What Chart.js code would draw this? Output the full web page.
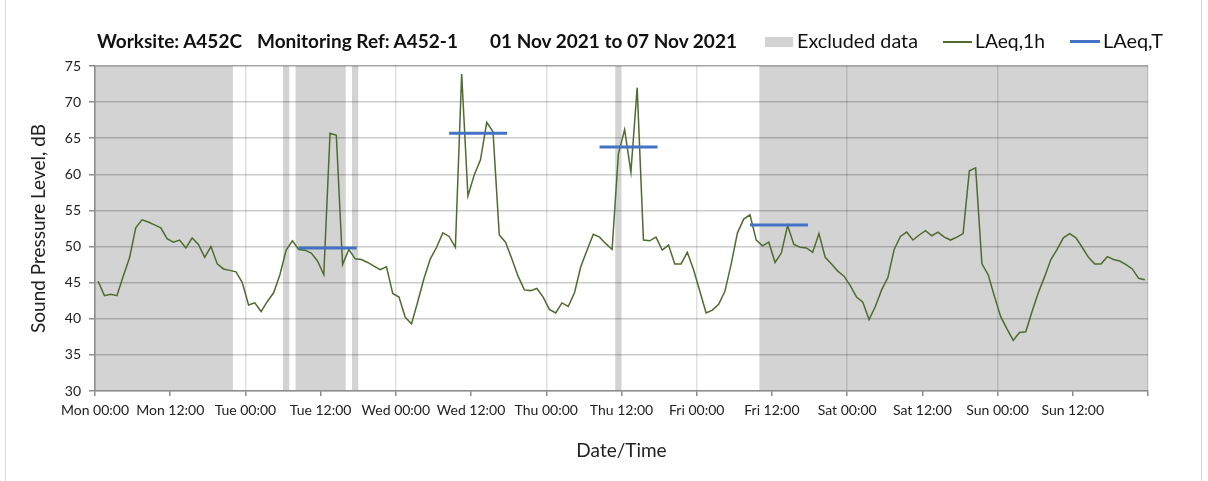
<!DOCTYPE html>
<html>
<head>
<meta charset="utf-8">
<title>A452-1 noise monitoring</title>
<script src="https://cdn.jsdelivr.net/npm/chart.js@4.4.0/dist/chart.umd.min.js"></script>
<style>
  body { margin: 0; background: #fff; }
  #wrap { position: relative; width: 1208px; height: 481px; overflow: hidden; font-family: Lato, "Open Sans", sans-serif; color: #111; }
  #frame { position: absolute; left: 5px; top: 0; width: 1197px; height: 481px; border-left: 1px solid #d9d9d9; border-right: 1px solid #d9d9d9; box-sizing: border-box; }
  canvas { position: absolute; left: 0; top: 0; }
  .ttl { position: absolute; top: 40px; font-size: 19px; font-weight: bold; white-space: nowrap; line-height: 1; transform: translateY(-50%); }
  .leg { position: absolute; top: 41px; font-size: 19px; white-space: nowrap; line-height: 1; transform: translateY(-50%); }
  .swatch { position: absolute; }
</style>
</head>
<body>
<div id="wrap">
  <div id="frame"></div>
  <canvas id="noiseChart" width="1208" height="481"></canvas>
  <span class="ttl" style="left:97px">Worksite: A452C</span>
  <span class="ttl" style="left:257px">Monitoring Ref: A452-1</span>
  <span class="ttl" style="left:490px">01 Nov 2021 to 07 Nov 2021</span>
  <div class="swatch" style="left:765px; top:37px; width:28px; height:10px; background:#d3d3d3"></div>
  <span class="leg" data-w="121" style="left:797px">Excluded data</span>
  <div class="swatch" style="left:943px; top:41px; width:29px; height:2px; background:#4f6b2f"></div>
  <span class="leg" data-w="70" style="left:975px">LAeq,1h</span>
  <div class="swatch" style="left:1070px; top:40px; width:30px; height:3px; background:#4472c4"></div>
  <span class="leg" data-w="60" style="left:1103px">LAeq,T</span>
</div>
<script>
// hourly LAeq,1h values, one per hour from Mon 00:00 (plotted at mid-hour)
const laeq1h = [
  45.2, 43.2, 43.4, 43.2, 45.9, 48.4, 52.6, 53.7, 53.4, 53.0, 52.6, 51.1,
  50.6, 50.9, 49.8, 51.2, 50.3, 48.5, 50.0, 47.6, 46.9, 46.7, 46.5, 45.0,
  41.9, 42.2, 41.0, 42.4, 43.6, 46.1, 49.5, 50.8, 49.6, 49.5, 49.1, 48.0,
  46.1, 65.7, 65.4, 47.5, 49.6, 48.3, 48.2, 47.8, 47.3, 46.8, 47.2, 43.5,
  43.0, 40.2, 39.3, 42.4, 45.6, 48.3, 49.9, 51.9, 51.4, 49.9, 73.9, 57.0,
  59.9, 62.0, 67.2, 65.9, 51.6, 50.6, 48.3, 45.9, 44.0, 43.9, 44.2, 43.0,
  41.3, 40.8, 42.2, 41.7, 43.6, 47.2, 49.5, 51.7, 51.3, 50.4, 49.6, 62.8,
  66.2, 60.3, 72.0, 50.9, 50.8, 51.3, 49.5, 50.2, 47.6, 47.6, 49.2, 46.8,
  43.8, 40.8, 41.2, 42.0, 43.8, 47.6, 51.9, 53.8, 54.4, 50.9, 50.1, 50.6,
  47.8, 49.1, 52.9, 50.3, 49.9, 49.8, 49.2, 51.8, 48.5, 47.6, 46.6, 45.9,
  44.6, 43.0, 42.3, 39.9, 41.7, 44.0, 45.7, 49.6, 51.4, 52.0, 50.9, 51.6,
  52.2, 51.5, 52.0, 51.3, 50.9, 51.3, 51.8, 60.5, 60.9, 47.6, 46.1, 43.1,
  40.3, 38.6, 37.0, 38.1, 38.2, 41.0, 43.6, 45.8, 48.2, 49.6, 51.2, 51.8,
  51.2, 49.9, 48.5, 47.6, 47.6, 48.6, 48.2, 48.0, 47.5, 46.9, 45.6, 45.4
];

// LAeq,T daytime periods (hours from Mon 00:00)
const periodStart = [32.5, 56.5, 80.5, 104.5];
const periodEnd = [41.75, 65.75, 89.75, 113.75];
const periodLevel = [49.8, 65.7, 63.8, 53.0];

// excluded data windows (hours from Mon 00:00)
const excludedStart = [0, 30, 32, 41, 83, 106];
const excludedEnd = [22, 31, 40, 42, 84, 168];

const tickDays = ['Mon', 'Tue', 'Wed', 'Thu', 'Fri', 'Sat', 'Sun'];
const tickTimes = ['00:00', '12:00'];

// stretch legend texts to the widths they take in the original
document.querySelectorAll('[data-w]').forEach(el => {
    const size = parseFloat(getComputedStyle(el).fontSize);
    const w = el.getBoundingClientRect().width;
    el.style.fontSize = (size * el.dataset.w / w).toFixed(2) + 'px';
});

const hourlyPoints = laeq1h.map((v, i) => ({ x: i + 0.5, y: v }));

const periodPoints = [];
periodStart.forEach((s, i) => {
    periodPoints.push({ x: s, y: periodLevel[i] });
    periodPoints.push({ x: periodEnd[i], y: periodLevel[i] });
    periodPoints.push({ x: periodEnd[i], y: null }); // break between periods
});

// grey bands behind the grid for the excluded windows
const excludedBands = {
    id: 'excludedBands',
    beforeDraw(chart) {
        const ctx = chart.ctx;
        const area = chart.chartArea;
        const x = chart.scales.x;
        ctx.save();
        ctx.fillStyle = '#d3d3d3';
        excludedStart.forEach((s, i) => {
            const x0 = x.getPixelForValue(s);
            const x1 = x.getPixelForValue(excludedEnd[i]);
            ctx.fillRect(x0, area.top, x1 - x0, area.bottom - area.top);
        });
        ctx.restore();
    }
};

const textColor = '#222';
const axisColor = '#8c8c8c';

const ctx = document.getElementById('noiseChart').getContext('2d');
const noiseChart = new Chart(ctx, {
    type: 'line',
    data: {
        datasets: [{
            label: 'LAeq,T',
            data: periodPoints,
            borderColor: '#4472c4',
            borderWidth: 3,
            pointRadius: 0,
            spanGaps: false,
            order: 1
        }, {
            label: 'LAeq,1h',
            data: hourlyPoints,
            borderColor: '#4f6b2f',
            borderWidth: 1.5,
            pointRadius: 0,
            tension: 0,
            order: 2
        }]
    },
    options: {
        responsive: false,
        animation: false,
        layout: { padding: { left: 0, top: 66, right: 60, bottom: 0 } },
        plugins: {
            legend: { display: false },
            tooltip: { enabled: false }
        },
        scales: {
            x: {
                type: 'linear',
                min: 0,
                max: 168,
                afterFit: function (scale) { scale.height = 90; },
                border: { color: axisColor, width: 1.5 },
                grid: {
                    color: c => (c.tick && c.tick.value % 24 === 0) ? 'rgba(0,0,0,0.12)' : 'rgba(0,0,0,0)',
                    lineWidth: 1.5,
                    tickColor: axisColor,
                    tickLength: 5
                },
                ticks: {
                    stepSize: 12,
                    autoSkip: false,
                    maxRotation: 0,
                    padding: 6,
                    color: textColor,
                    font: { family: 'Lato', size: 14 },
                    callback: function (value) {
                        if (value >= 168) return '';
                        return tickDays[Math.floor(value / 24)] + ' ' + tickTimes[(value % 24) / 12];
                    }
                },
                title: {
                    display: true,
                    text: 'Date/Time',
                    color: textColor,
                    font: { family: 'Lato', size: 19 },
                    padding: { top: 0, bottom: 19 }
                }
            },
            y: {
                min: 30,
                max: 75,
                afterFit: function (scale) { scale.width = 95; },
                border: { color: axisColor, width: 1.5 },
                grid: {
                    color: c => (c.tick && c.tick.value === 75) ? 'rgba(0,0,0,0.35)' : 'rgba(0,0,0,0.2)',
                    lineWidth: 1.5,
                    tickColor: axisColor,
                    tickLength: 6
                },
                ticks: {
                    stepSize: 5,
                    padding: 8,
                    color: textColor,
                    font: { family: 'Lato', size: 14 }
                },
                title: {
                    display: true,
                    text: 'Sound Pressure Level, dB',
                    color: textColor,
                    font: { family: 'Lato', size: 19 },
                    padding: { top: 27, bottom: 0 }
                }
            }
        }
    },
    plugins: [excludedBands]
});
</script>
</body>
</html>
